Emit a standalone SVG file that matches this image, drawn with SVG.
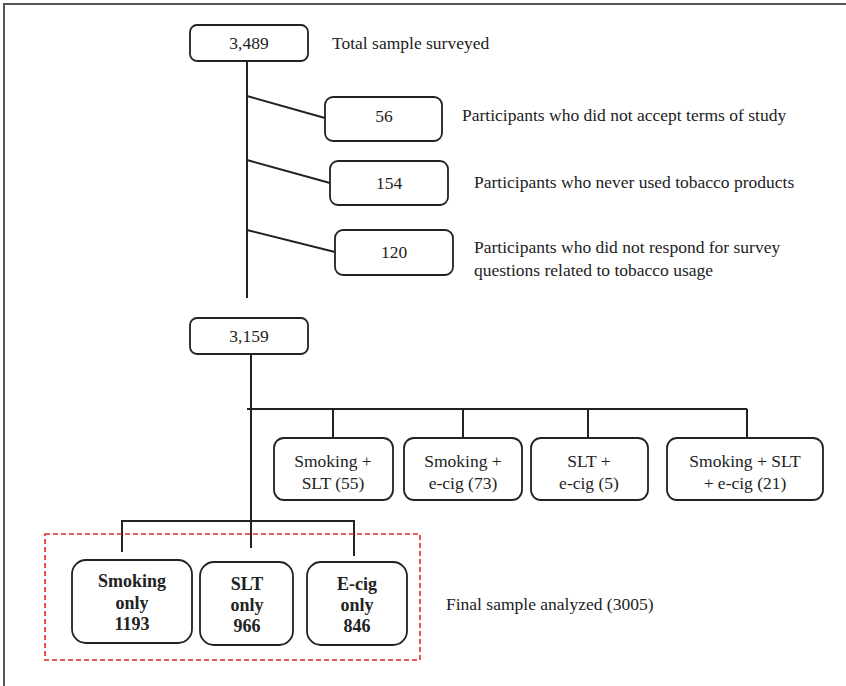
<svg xmlns="http://www.w3.org/2000/svg" width="846" height="686" viewBox="0 0 846 686">
<style>
.box{fill:#fff;stroke:#222;stroke-width:1.8}
.ln{stroke:#222;stroke-width:2;fill:none}
text{font-family:"Liberation Serif","Times New Roman",serif;font-size:17.5px;fill:#222}
.c{text-anchor:middle}
.b{font-weight:bold;font-size:18px}
</style>
<rect x="0" y="0" width="846" height="686" fill="#fff"/>
<path d="M4 686 V4 H846" stroke="#555" stroke-width="2" fill="none"/>
<g id="connectors">
<path class="ln" d="M247 61 V298"/>
<path class="ln" d="M247 96 L325 118"/>
<path class="ln" d="M247 160 L330 183"/>
<path class="ln" d="M247 230 L335 252"/>
<path class="ln" d="M251 354 V548"/>
<path class="ln" d="M247 409 H747"/>
<path class="ln" d="M333 409 V438 M463 409 V438 M588 409 V442 M747 409 V438"/>
<path class="ln" d="M122 552 V521 H354 V556"/>
</g>
<g id="n3489"><rect class="box" x="190" y="25" width="118" height="36" rx="7"/><text class="c" x="249" y="49">3,489</text></g>
<text x="332" y="49">Total sample surveyed</text>
<g id="n56"><rect class="box" x="325" y="97" width="117" height="44" rx="8"/><text class="c" x="384" y="122">56</text></g>
<text x="462" y="121">Participants who did not accept terms of study</text>
<g id="n154"><rect class="box" x="330" y="161" width="118" height="44" rx="8"/><text class="c" x="389" y="189">154</text></g>
<text x="474" y="188">Participants who never used tobacco products</text>
<g id="n120"><rect class="box" x="335" y="230" width="118" height="45" rx="8"/><text class="c" x="394" y="258">120</text></g>
<text x="474" y="253">Participants who did not respond for survey</text>
<text x="474" y="276">questions related to tobacco usage</text>
<g id="n3159"><rect class="box" x="190" y="318" width="118" height="36" rx="7"/><text class="c" x="249" y="342">3,159</text></g>
<g id="nsmslt"><rect class="box" x="274" y="438" width="119" height="62" rx="10"/><text class="c" x="333" y="467">Smoking +</text><text class="c" x="333" y="489">SLT (55)</text></g>
<g id="nsmecig"><rect class="box" x="404" y="438" width="118" height="62" rx="10"/><text class="c" x="463" y="467">Smoking +</text><text class="c" x="463" y="489">e-cig (73)</text></g>
<g id="nsltecig"><rect class="box" x="531" y="438" width="117" height="62" rx="10"/><text class="c" x="589" y="467">SLT +</text><text class="c" x="589" y="489">e-cig (5)</text></g>
<g id="nall"><rect class="box" x="667" y="438" width="156" height="62" rx="10"/><text class="c" x="745" y="467">Smoking + SLT</text><text class="c" x="745" y="489">+ e-cig (21)</text></g>
<rect x="45" y="534" width="375" height="126" fill="none" stroke="#e8262a" stroke-width="1.6" stroke-dasharray="5,3"/>
<g id="nsmonly"><rect class="box" x="72" y="560" width="120" height="83" rx="14"/><text class="c b" x="132" y="587">Smoking</text><text class="c b" x="132" y="609">only</text><text class="c b" x="132" y="630">1193</text></g>
<g id="nsltonly"><rect class="box" x="200" y="562" width="93" height="83" rx="14"/><text class="c b" x="247" y="590">SLT</text><text class="c b" x="247" y="611">only</text><text class="c b" x="247" y="632">966</text></g>
<g id="necigonly"><rect class="box" x="307" y="562" width="100" height="83" rx="14"/><text class="c b" x="357" y="590">E-cig</text><text class="c b" x="357" y="611">only</text><text class="c b" x="357" y="632">846</text></g>
<text x="446" y="610">Final sample analyzed (3005)</text>
</svg>
